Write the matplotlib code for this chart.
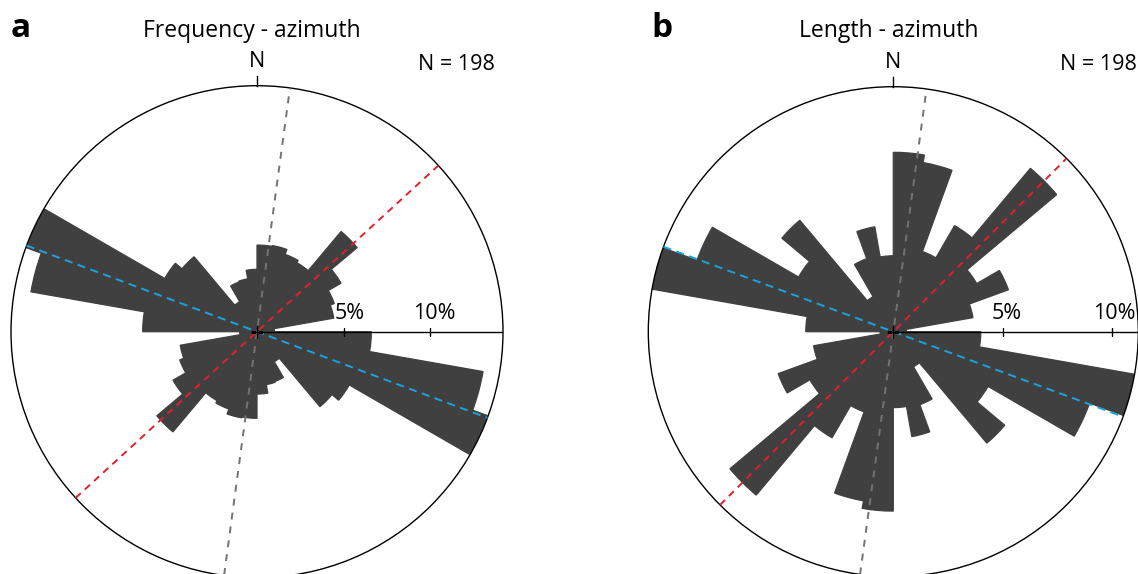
import numpy as np
import matplotlib
matplotlib.use("Agg")
import matplotlib.pyplot as plt

# ---------------- data (percent of lineaments per 10° azimuth bin, 0-180°) -------------
bin_starts = list(range(0, 180, 10))
freq_pct = [5.0, 5.05, 4.75, 4.6, 7.55, 5.6, 4.75, 4.5, 1.0,
            6.6, 13.25, 14.15, 6.15, 5.65, 2.0, 3.05, 3.1, 3.6]
length_pct = [8.2, 7.85, 3.9, 5.6, 9.75, 4.4, 5.6, 3.7, 0.6,
              4.0, 11.2, 9.55, 5.0, 6.65, 1.85, 3.55, 4.87, 3.47]
titles = ["Frequency - azimuth", "Length - azimuth"]
panel_letters = ["a", "b"]
n_labels = ["N = 198", "N = 198"]
rmax = [14.2, 11.2]
ring_ticks = [5, 10]
ring_tick_labels = ["5%", "10%"]
gray_az = [7.7, 7.8]     # mean directions (deg)
red_az = [47.5, 45.0]
blue_az = [110.5, 110.3]

plt.rcParams["font.family"] = ["Open Sans", "DejaVu Sans"]

W, H = 1138, 574
fig = plt.figure(figsize=(W / 100, H / 100), dpi=100)

# panel geometry in pixels (centre x, centre y from bottom, radius)
geom = [(257.0, 242.3, 246.0), (893.3, 242.3, 245.0)]
series = [freq_pct, length_pct]
label_dx = [(-9, -17), (-11, -19)]

bar_color = "#404040"
width = np.deg2rad(10)

for i in range(2):
    cx, cy, R = geom[i]
    ax = fig.add_axes([(cx - R) / W, (cy - R) / H, 2 * R / W, 2 * R / H],
                      projection="polar")
    ax.set_theta_zero_location("N")
    ax.set_theta_direction(-1)
    ax.set_ylim(0, rmax[i])
    ax.grid(False)
    ax.set_xticks([])
    ax.set_yticks([])
    ax.patch.set_alpha(0)
    ax.spines["polar"].set_linewidth(1.0)
    ax.spines["polar"].set_color("black")
    scale = R / rmax[i]

    vals = series[i]
    theta = np.deg2rad(np.array(bin_starts + [b + 180 for b in bin_starts], float))
    r = np.array(list(vals) + list(vals), float)
    ax.bar(theta, r, width=width, align="edge", color=bar_color,
           edgecolor=bar_color, linewidth=0.9, zorder=2)

    # radial scale along east
    ax.plot([np.pi / 2, np.pi / 2], [0, rmax[i]], color="black", lw=1.0, zorder=4)
    for t, lab, dx in zip(ring_ticks, ring_tick_labels, label_dx[i]):
        ax.plot([np.pi / 2], [t], marker="|", ms=6, mew=1.0, color="black", zorder=4)
        ax.annotate(lab, xy=(np.pi / 2, t), xytext=(dx, 8), textcoords="offset pixels",
                    ha="left", va="bottom", fontsize=15.5, color="black")

    # dashed mean-direction lines
    for az, col, dash in [(gray_az[i], "#737373", (3.6, 3.6)),
                          (red_az[i], "#e3202b", (3.6, 2.8)),
                          (blue_az[i], "#1ba3dc", (4.2, 2.8))]:
        a = np.deg2rad(az)
        ax.plot([a + np.pi, a + np.pi, a, a], [rmax[i], 0, 0, rmax[i]],
                color=col, lw=1.4, dashes=dash, zorder=5, clip_on=False)

    # centre cross
    ax.plot([0], [0], marker="+", ms=8, mew=1.0, color="black", zorder=6)

    # north tick and label
    ax.plot([0, 0], [rmax[i], rmax[i] + 10 / scale], color="black", lw=1.0,
            clip_on=False, zorder=4)
    ax.annotate("N", xy=(0, rmax[i]), xytext=(0, 14), textcoords="offset pixels",
                ha="center", va="bottom", fontsize=15.5)

fig.text(11 / W, (H - 37) / H, panel_letters[0], fontsize=24, fontweight="bold",
         ha="left", va="baseline")
fig.text(651 / W, (H - 37) / H, panel_letters[1], fontsize=24, fontweight="bold",
         ha="left", va="baseline")
fig.text(252 / W, (H - 37) / H, titles[0], fontsize=16.5, ha="center", va="baseline")
fig.text(889 / W, (H - 37) / H, titles[1], fontsize=16.5, ha="center", va="baseline")
fig.text(495 / W, (H - 70) / H, n_labels[0], fontsize=15.5, ha="right", va="baseline")
fig.text(1137 / W, (H - 70) / H, n_labels[1], fontsize=15.5, ha="right", va="baseline")

fig.savefig("out.png", dpi=100)
